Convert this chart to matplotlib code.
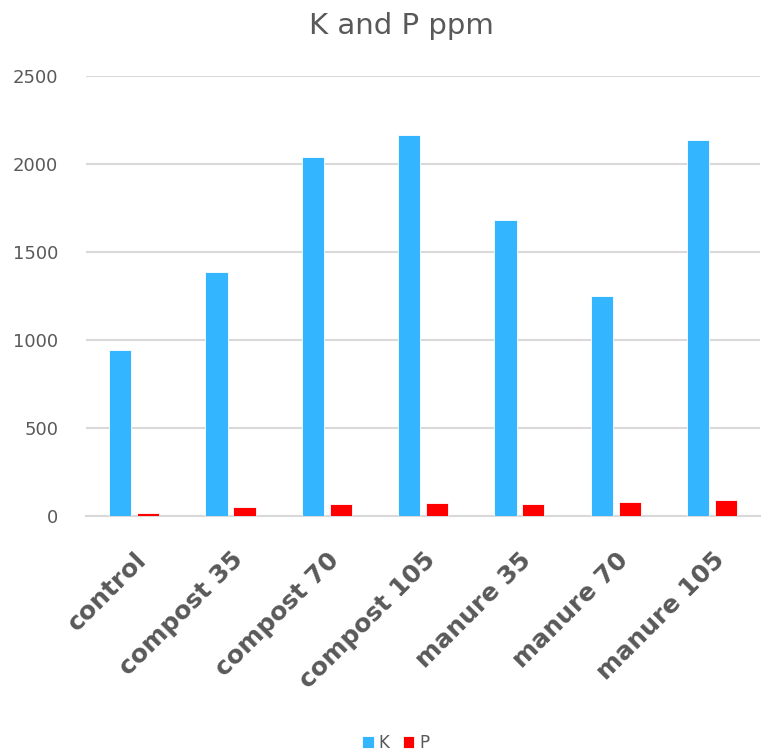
import matplotlib
matplotlib.use("Agg")
import matplotlib.pyplot as plt
import numpy as np

categories = ["control", "compost 35", "compost 70", "compost 105",
              "manure 35", "manure 70", "manure 105"]
k_values = [942, 1386, 2040, 2164, 1684, 1248, 2135]
p_values = [14, 49, 65, 72, 65, 78, 87]
y_ticks = [0, 500, 1000, 1500, 2000, 2500]

K_COLOR = "#33B5FF"
P_COLOR = "#FF0000"
TEXT = "#595959"
GRID = "#D9D9D9"

plt.rcParams["font.family"] = ["DejaVu Sans"]

fig = plt.figure(figsize=(7.61, 7.54), dpi=100)
ax = fig.add_axes([0.113, 0.316, 0.886, 0.583])

x = np.arange(len(categories))
w = 0.23
off = 0.145
ax.bar(x - off, k_values, width=w, color=K_COLOR, edgecolor="white", linewidth=0.6, label="K", zorder=3)
ax.bar(x + off, p_values, width=w, color=P_COLOR, edgecolor="white", linewidth=0.6, label="P", zorder=3)

ax.set_xlim(-0.5, len(categories) - 0.5)
ax.set_ylim(0, 2500)
ax.set_yticks(y_ticks)
ax.set_yticklabels([str(v) for v in y_ticks], fontsize=13, color=TEXT)
ax.yaxis.grid(True, color=GRID, linewidth=1.5, zorder=0)
ax.set_axisbelow(True)
for s in ["top", "right", "left"]:
    ax.spines[s].set_visible(False)
ax.spines["bottom"].set_color(GRID)
ax.spines["bottom"].set_linewidth(1.5)
ax.tick_params(axis="both", length=0)
ax.tick_params(axis="y", pad=20)

ax.set_xticks(x)
ax.set_xticklabels(categories, rotation=45, ha="right", va="top",
                   rotation_mode="anchor", fontsize=18, fontweight="bold",
                   color=TEXT)
ax.tick_params(axis="x", pad=23)

fig.text(0.528, 0.966, "K and P ppm", ha="center", va="center",
         fontsize=21, color=TEXT)

leg = fig.legend(loc="center", bbox_to_anchor=(0.52, 0.015), ncol=2,
                 frameon=False, fontsize=12, labelcolor=TEXT,
                 handlelength=0.7, handleheight=0.7, handletextpad=0.3,
                 columnspacing=0.8)

fig.savefig("out.png", dpi=100)
